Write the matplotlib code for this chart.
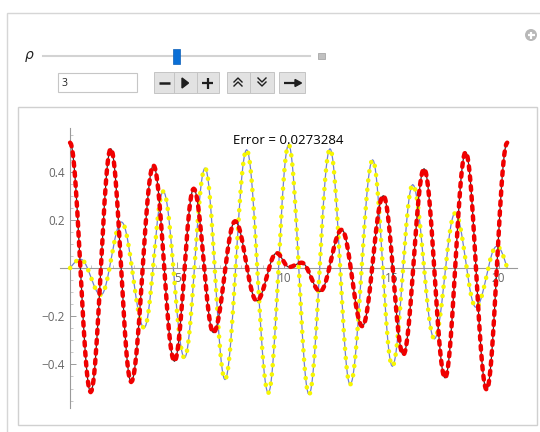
import numpy as np
import matplotlib
matplotlib.use('Agg')
import matplotlib.pyplot as plt
from matplotlib.path import Path
from matplotlib.patches import Rectangle, Circle

# turning points of the two curves (x, value)
red_x = [0, 0.96, 1.90, 2.85, 3.89, 4.87, 5.77, 6.69, 7.70, 8.71, 9.64, 10.22,
         10.81, 11.67, 12.68, 13.64, 14.62, 15.55, 16.52, 17.50, 18.46, 19.44, 20.40]
red_y = [0.52, -0.515, 0.495, -0.473, 0.426, -0.387, 0.329, -0.268, 0.194, -0.136, 0.062, 0.004,
         0.022, -0.097, 0.159, -0.242, 0.300, -0.360, 0.412, -0.456, 0.481, -0.505, 0.52]

yellow_x = [0, 0.50, 1.44, 2.40, 3.46, 4.35, 5.34, 6.30, 7.23, 8.24, 9.25, 10.20,
            11.15, 12.13, 13.07, 14.12, 15.04, 15.99, 17.00, 17.97, 18.94, 19.91, 20.40]
yellow_y = [0, 0.036, -0.112, 0.191, -0.248, 0.318, -0.373, 0.415, -0.463, 0.491, -0.519, 0.512,
            -0.525, 0.495, -0.484, 0.449, -0.408, 0.346, -0.294, 0.228, -0.163, 0.090, 0.0]

x_ticks = [5, 10, 15, 20]
y_ticks = [-0.4, -0.2, 0.2, 0.4]
rho_value = "3"
error_text = "Error = 0.0273284"

plt.rcParams['font.family'] = ['Open Sans', 'DejaVu Sans']
plt.rcParams['lines.scale_dashes'] = False


def wave_line(xs, ys, open_ends=False):
    # cubic segments between turning points (flat tangents at extrema),
    # evaluated by matplotlib's bezier helper
    k = 0.364
    verts = [(xs[0], ys[0])]
    codes = [Path.MOVETO]
    n = len(xs)
    for i in range(n - 1):
        x0, y0, x1, y1 = xs[i], ys[i], xs[i + 1], ys[i + 1]
        dx = x1 - x0
        s0 = s1 = 0.0
        if open_ends and i == 0:
            s0 = 1.571 * (y1 - y0) / dx
        if open_ends and i == n - 2:
            s1 = 1.571 * (y1 - y0) / dx
        verts += [(x0 + k * dx, y0 + s0 * k * dx), (x1 - k * dx, y1 - s1 * k * dx), (x1, y1)]
        codes += [Path.CURVE4] * 3
    pts = []
    t = np.linspace(0, 1, 24)
    for seg, code in Path(verts, codes).iter_bezier():
        if code == Path.CURVE4:
            pts.append(seg.point_at_t(t)[1:])
    pts = np.vstack([[verts[0]]] + pts)
    return pts[:, 0], pts[:, 1]


fig = plt.figure(figsize=(5.4, 4.32), dpi=100)

# --- panel and controls, drawn in pixel coordinates ---
bg = fig.add_axes([0, 0, 1, 1])
bg.set_xlim(0, 540)
bg.set_ylim(432, 0)
bg.axis('off')

bg.add_patch(Rectangle((7, 13), 560, 450, fc='white', ec='#d6d6d6', lw=1))
bg.add_patch(Rectangle((18, 107), 519, 318, fc='white', ec='#d0d0d0', lw=1))

# plus icon
bg.add_patch(Circle((531, 35), 6, fc='#b8b8b8', ec='none'))
bg.plot([527.5, 534.5], [35, 35], color='white', lw=1.6, solid_capstyle='butt')
bg.plot([531, 531], [31.5, 38.5], color='white', lw=1.6, solid_capstyle='butt')

# slider
bg.text(29, 56, r'$\rho$', fontsize=10, ha='center', va='center', color='#222222')
bg.plot([43, 310], [56, 56], color='#d3d3d3', lw=1.5, zorder=1)
bg.add_patch(Rectangle((172.5, 48.5), 7, 15, fc='#0a6fd6', ec='#0a5fb8', lw=0.5, zorder=3))
bg.add_patch(Rectangle((318, 53), 7, 6, fc='#c0c0c0', ec='#a8a8a8', lw=0.6))

# input field
bg.add_patch(Rectangle((58, 73), 79, 19, fc='white', ec='#c6c6c6', lw=0.8))
bg.text(62, 83, rho_value, fontsize=7.5, va='center', ha='left', color='#222222')

# button groups
btn_fc = '#e2e2e2'
btn_ec = '#c4c4c4'
for x0, w in [(154, 20), (174, 22.5), (196.5, 22.5), (226.5, 23.5), (250, 23.5), (279, 26)]:
    bg.add_patch(Rectangle((x0, 72), w, 21, fc=btn_fc, ec=btn_ec, lw=0.7))
ink = '#1e1e1e'
bg.plot([158.5, 169.5], [83, 83], color=ink, lw=1.8, solid_capstyle='butt')
bg.fill([182, 182, 188.5], [78, 88, 83], color=ink)
bg.plot([202, 213], [83, 83], color=ink, lw=1.6, solid_capstyle='butt')
bg.plot([207.5, 207.5], [77.5, 88.5], color=ink, lw=1.6, solid_capstyle='butt')
for dy in (0, 4):
    bg.plot([234, 238, 242], [82 + dy, 78 + dy, 82 + dy], color=ink, lw=1.0)
    bg.plot([258, 262, 266], [78 + dy, 82 + dy, 78 + dy], color=ink, lw=1.0)
bg.plot([284, 296], [83, 83], color=ink, lw=1.6, solid_capstyle='butt')
bg.fill([295, 295, 301.5], [79.5, 86.5, 83], color=ink)

# --- the plot ---
ax = fig.add_axes([0.1119, 0.056, 0.8452, 0.6472])
ax.patch.set_visible(False)
ax.set_xlim(-0.45, 20.85)
ax.set_ylim(-0.58, 0.58)

rx, ry = wave_line(red_x, red_y)
yx, yy = wave_line(yellow_x, yellow_y, open_ends=True)
ax.plot(yx, yy, color='#6f7fd6', lw=0.9, zorder=2)
ax.plot(yx, yy, color='#f6f600', lw=3.3, dashes=(0.1, 6.6),
        dash_capstyle='round', zorder=3)
ax.plot(rx, ry, color='#3a3030', lw=0.9, zorder=4)
ax.plot(rx, ry, color='#f00000', lw=3.2, dashes=(2.8, 4.4),
        dash_capstyle='round', zorder=5)

ax.text(10.2, 0.527, error_text, fontsize=9.5, ha='center', va='center',
        color='black', zorder=6)

for side in ['top', 'right']:
    ax.spines[side].set_visible(False)
for side in ['left', 'bottom']:
    ax.spines[side].set_position(('data', 0))
    ax.spines[side].set_color('#9a9a9a')
    ax.spines[side].set_linewidth(0.8)

ax.set_xticks(x_ticks)
ax.set_yticks(y_ticks)
ax.set_yticklabels(['\u22120.4', '\u22120.2', '0.2', '0.4'])
ax.set_xticks(range(1, 21), minor=True)
ax.set_yticks([v / 20 for v in range(-11, 12) if v != 0], minor=True)
ax.tick_params(which='major', direction='in', length=4, width=0.7, color='#9a9a9a',
               labelsize=8.5, labelcolor='#666666')
ax.tick_params(axis='x', which='major', pad=3)
ax.tick_params(axis='y', which='major', pad=4)
ax.tick_params(which='minor', direction='in', length=2, width=0.5, color='#b0b0b0')

plt.savefig('out.png', dpi=100)
